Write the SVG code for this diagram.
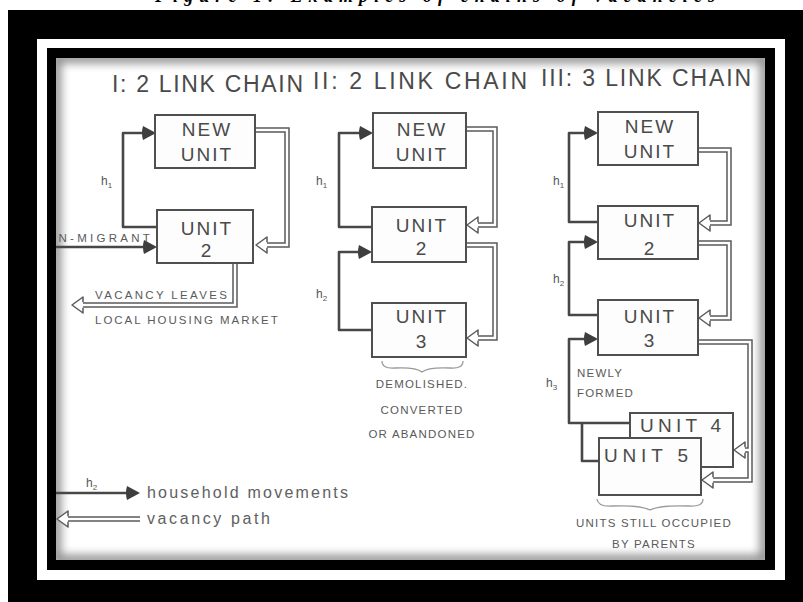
<svg xmlns="http://www.w3.org/2000/svg" xmlns:xlink="http://www.w3.org/1999/xlink" width="803" height="602" viewBox="0 0 803 602">
<style>
.box{fill:#fdfdfd;stroke:#4f4f4f;stroke-width:2}
.bt{font-family:"Liberation Sans",Arial,sans-serif;font-size:19px;fill:#4a4a4a;text-anchor:middle;letter-spacing:2px}
.hd{font-family:"Liberation Sans",Arial,sans-serif;font-size:23px;fill:#4a4a4a}
.sm{font-family:"Liberation Sans",Arial,sans-serif;font-size:11.5px;fill:#5a5a5a;letter-spacing:1.2px}
.smc{font-family:"Liberation Sans",Arial,sans-serif;font-size:11.5px;fill:#5a5a5a;letter-spacing:1.2px;text-anchor:middle}
.lab{font-family:"Liberation Sans",Arial,sans-serif;font-size:12px;fill:#555}
.leg{font-family:"Liberation Sans",Arial,sans-serif;font-size:16px;fill:#606060}
.hh{fill:none;stroke:#474747;stroke-width:2.6;stroke-linejoin:round}
.vo{fill:none;stroke:#5a5a5a;stroke-width:5.5}
.vi{fill:none;stroke:#ffffff;stroke-width:2.5}
.brace{fill:none;stroke:#9a9a9a;stroke-width:1.3}
</style>
<defs>
<clipPath id="content"><rect x="56" y="58" width="709" height="502"/></clipPath>
<filter id="blur" x="-10%" y="-10%" width="120%" height="120%"><feGaussianBlur stdDeviation="5"/></filter>
<g id="fill-arrow"><path d="M0,0 L-13,-7 Q-15,0 -13,7 Z" fill="#3e3e3e"/></g>
<g id="hollow-arrow"><path d="M11,-2.75 L11,-8 L0,0 L11,8 L11,2.75" fill="#ffffff" stroke="#5a5a5a" stroke-width="1.5" stroke-linejoin="round"/></g>
<g id="vacpaths">
<path d="M255,130 H287 V245 H266"/>
<path d="M235,263 V305 H83"/>
<path d="M466,129 H495 V225 H478"/>
<path d="M466,245 H495 V338 H478"/>
<path d="M698,150 H729 V223 H710"/>
<path d="M698,243 H729 V318 H710"/>
<path d="M698,342 H750 V480 H713"/>
<path d="M750,450 H745"/>
<path d="M68,519 H140"/>
</g>
</defs>

<!-- caption (clipped at top, as in the reference) -->
<rect x="0" y="0" width="803" height="602" fill="#ffffff"/>
<text x="435" y="1.5" font-family="'Liberation Serif',serif" font-size="18" font-weight="bold" font-style="italic" text-anchor="middle" textLength="560" fill="#000">Figure 1: Examples of chains of vacancies</text>

<!-- frame -->
<g id="frame">
<rect x="8" y="10" width="795" height="592" fill="#000"/>
<rect x="37" y="39" width="748" height="541" fill="#fff"/>
<rect x="47" y="48" width="728" height="522" fill="#000"/>
<rect x="56" y="58" width="709" height="502" fill="#fff"/>
<g clip-path="url(#content)">
<rect x="56" y="58" width="709" height="502" fill="none" stroke="#000" stroke-width="10" opacity="0.45" filter="url(#blur)"/>
</g>
</g>

<g clip-path="url(#content)">
<!-- headings -->
<g id="headings">
<text class="hd" x="112" y="92" textLength="191">I: 2 LINK CHAIN</text>
<text class="hd" x="313" y="89" textLength="214">II: 2 LINK CHAIN</text>
<text class="hd" x="541" y="86" textLength="210">III: 3 LINK CHAIN</text>
</g>

<!-- connectors -->
<g id="connectors">
<use xlink:href="#vacpaths" class="vo"/>
<use xlink:href="#vacpaths" class="vi"/>
<!-- chain I -->
<path class="hh" d="M157,227 H123 V133 H145"/>
<use xlink:href="#fill-arrow" x="156" y="133"/>
<path class="hh" d="M50,247 H146"/>
<use xlink:href="#fill-arrow" x="157" y="247"/>
<use xlink:href="#hollow-arrow" x="256" y="245"/>
<use xlink:href="#hollow-arrow" x="72" y="305"/>
<!-- chain II -->
<path class="hh" d="M372,227 H339 V133 H361"/>
<use xlink:href="#fill-arrow" x="373" y="133"/>
<path class="hh" d="M372,330 H339 V252 H360"/>
<use xlink:href="#fill-arrow" x="372" y="252"/>
<use xlink:href="#hollow-arrow" x="467" y="225"/>
<use xlink:href="#hollow-arrow" x="467" y="338"/>
<!-- chain III -->
<path class="hh" d="M598,222 H569 V133 H586"/>
<use xlink:href="#fill-arrow" x="598" y="133"/>
<path class="hh" d="M598,315 H569 V242 H586"/>
<use xlink:href="#fill-arrow" x="598" y="242"/>
<path class="hh" d="M630,423 H569 V339 H586"/>
<use xlink:href="#fill-arrow" x="598" y="339"/>
<path class="hh" d="M600,461 H582 V423"/>
<use xlink:href="#hollow-arrow" x="699" y="223"/>
<use xlink:href="#hollow-arrow" x="699" y="318"/>
<use xlink:href="#hollow-arrow" x="734" y="450"/>
<use xlink:href="#hollow-arrow" x="702" y="480"/>
<!-- legend -->
<path class="hh" d="M50,493 H128"/>
<use xlink:href="#fill-arrow" x="140" y="493"/>
<use xlink:href="#hollow-arrow" x="57" y="519"/>
</g>

<!-- chain I nodes -->
<g id="c1-new"><rect class="box" x="155" y="115" width="100" height="53"/><text class="bt" x="207" y="136">NEW</text><text class="bt" x="207" y="161">UNIT</text></g>
<g id="c1-unit2"><rect class="box" x="157" y="210" width="96" height="53"/><text class="bt" x="207" y="235">UNIT</text><text class="bt" x="207" y="257">2</text></g>

<!-- chain II nodes -->
<g id="c2-new"><rect class="box" x="373" y="113" width="93" height="55"/><text class="bt" x="422" y="136">NEW</text><text class="bt" x="422" y="161">UNIT</text></g>
<g id="c2-unit2"><rect class="box" x="372" y="207" width="94" height="55"/><text class="bt" x="422" y="232">UNIT</text><text class="bt" x="422" y="255">2</text></g>
<g id="c2-unit3"><rect class="box" x="372" y="303" width="94" height="54"/><text class="bt" x="422" y="323">UNIT</text><text class="bt" x="422" y="348">3</text></g>

<!-- chain III nodes -->
<g id="c3-new"><rect class="box" x="598" y="112" width="100" height="53"/><text class="bt" x="650" y="133">NEW</text><text class="bt" x="650" y="158">UNIT</text></g>
<g id="c3-unit2"><rect class="box" x="598" y="206" width="100" height="53"/><text class="bt" x="650" y="227">UNIT</text><text class="bt" x="650" y="255">2</text></g>
<g id="c3-unit3"><rect class="box" x="598" y="300" width="100" height="55"/><text class="bt" x="650" y="323">UNIT</text><text class="bt" x="650" y="347">3</text></g>
<g id="c3-unit4"><rect class="box" x="630" y="413" width="103" height="54"/><text class="bt" x="640" y="432" style="text-anchor:start" textLength="83">UNIT 4</text></g>
<g id="c3-unit5"><rect class="box" x="599" y="438" width="102" height="57"/><text class="bt" x="604" y="462" style="text-anchor:start" textLength="86">UNIT 5</text></g>

<!-- labels -->
<g id="labels">
<text class="lab" x="101" y="185">h<tspan font-size="8" dy="3">1</tspan></text>
<text class="lab" x="316" y="185">h<tspan font-size="8" dy="3">1</tspan></text>
<text class="lab" x="316" y="298">h<tspan font-size="8" dy="3">2</tspan></text>
<text class="lab" x="553" y="185">h<tspan font-size="8" dy="3">1</tspan></text>
<text class="lab" x="553" y="283">h<tspan font-size="8" dy="3">2</tspan></text>
<text class="lab" x="546" y="387">h<tspan font-size="8" dy="3">3</tspan></text>
<text class="lab" x="86" y="487">h<tspan font-size="8" dy="3">2</tspan></text>

<text class="sm" x="52" y="242" textLength="99">IN-MIGRANT</text>
<text class="sm" x="95" y="299" textLength="133">VACANCY LEAVES</text>
<text class="sm" x="95" y="324" textLength="184">LOCAL HOUSING MARKET</text>

<path class="brace" d="M382,361 Q382,369 395,368 Q416,367 422,372 Q428,367 450,368 Q463,369 463,361"/>
<text class="smc" x="422" y="388">DEMOLISHED.</text>
<text class="smc" x="422" y="414">CONVERTED</text>
<text class="smc" x="422" y="438">OR ABANDONED</text>

<text class="sm" x="577" y="377">NEWLY</text>
<text class="sm" x="577" y="397">FORMED</text>

<path class="brace" d="M597,499 Q598,507 612,506 Q641,505 650,510 Q659,505 689,506 Q703,507 703,499"/>
<text class="smc" x="654" y="527">UNITS STILL OCCUPIED</text>
<text class="smc" x="654" y="548">BY PARENTS</text>

<text class="leg" x="147" y="498" textLength="201">household  movements</text>
<text class="leg" x="147" y="524" textLength="123">vacancy  path</text>
</g>
</g>
</svg>
